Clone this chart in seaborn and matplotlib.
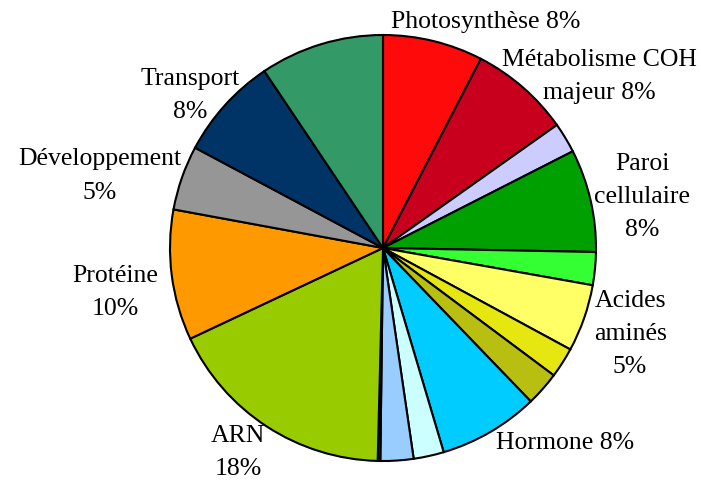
import numpy as np
import matplotlib
matplotlib.use("Agg")
import matplotlib.pyplot as plt
import seaborn as sns

# Functional categories (clockwise from 12 o'clock) and their shares
categories = [
    "Photosynthèse", "Métabolisme COH majeur", "Autre métabolisme", "Paroi cellulaire",
    "Lipides", "Acides aminés", "Métabolisme secondaire", "Métabolisme azoté",
    "Hormone", "Stress", "Redox", "Nucléotides", "ARN", "Protéine",
    "Développement", "Transport", "Divers",
]
values = [7.6, 7.6, 2.3, 7.8, 2.5, 5.1, 2.3, 2.6, 7.6, 2.3, 2.5, 0.2,
          17.6, 9.9, 4.9, 7.8, 9.4]
slice_colors = ["#FF0A0A", "#C8001E", "#CCCCFF", "#00A000", "#33FF33", "#FFFF66",
                "#E6E610", "#B8BF10", "#00CCFF", "#CCFFFF", "#99CCFF", "#333333",
                "#99CC00", "#FF9900", "#969696", "#003366", "#339966"]

# Label text for the named slices (percent appended from the values)
label_text = {
    "Photosynthèse": "Photosynthèse {p}",
    "Métabolisme COH majeur": "Métabolisme COH\nmajeur {p}",
    "Paroi cellulaire": "Paroi\ncellulaire\n{p}",
    "Acides aminés": "Acides\naminés\n{p}",
    "Hormone": "Hormone {p}",
    "ARN": "ARN\n{p}",
    "Protéine": "Protéine\n{p}",
    "Développement": "Développement\n{p}",
    "Transport": "Transport\n{p}",
}
# Label anchor points in pie-radius units
label_pos = {
    "Photosynthèse": (0.484, 1.061),
    "Métabolisme COH majeur": (1.014, 0.805),
    "Paroi cellulaire": (1.216, 0.239),
    "Acides aminés": (1.160, -0.404),
    "Hormone": (0.854, -0.915),
    "ARN": (-0.681, -0.960),
    "Protéine": (-1.258, -0.207),
    "Développement": (-1.329, 0.338),
    "Transport": (-0.906, 0.716),
}

sns.set_theme(style="white")
plt.rcParams["font.family"] = ["Liberation Serif", "DejaVu Serif"]

fig = plt.figure(figsize=(7.01, 4.80), dpi=100)
ax = fig.add_axes([170 / 701, 19 / 480, 426 / 701, 426 / 480])

palette = sns.color_palette(slice_colors)
ax.pie(values, colors=palette, startangle=90, counterclock=False,
       radius=1.0, center=(0, 0),
       wedgeprops=dict(edgecolor="black", linewidth=1.5))
ax.set_xlim(-1, 1)
ax.set_ylim(-1, 1)
ax.set_aspect("equal")
ax.axis("off")

total = sum(values)
for name, v in zip(categories, values):
    if name not in label_text:
        continue
    pct = f"{round(v / total * 100):d}%"
    x, y = label_pos[name]
    ax.text(x, y, label_text[name].format(p=pct), ha="center", va="center",
            fontsize=18.5, linespacing=1.65, color="black", clip_on=False)

fig.savefig("out.png", dpi=100)
